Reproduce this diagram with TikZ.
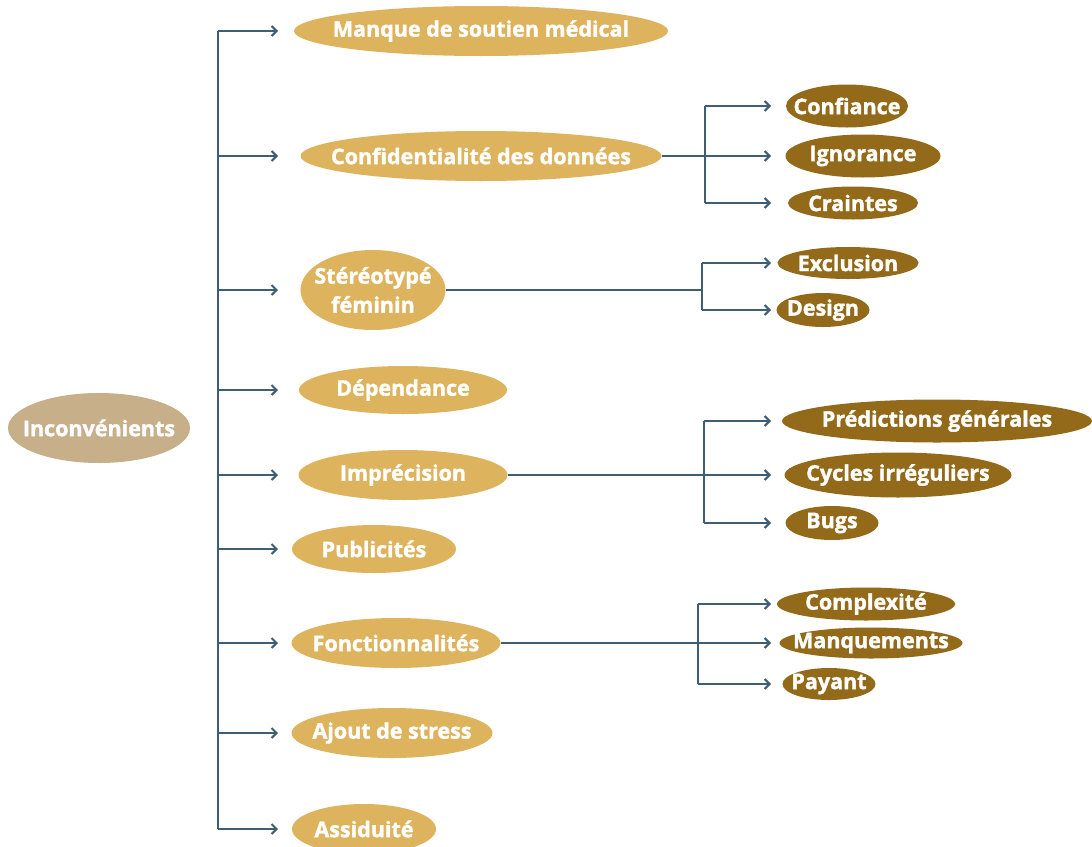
\documentclass[tikz,border=0pt]{standalone}
\usepackage{fontspec}
\setmainfont{Open Sans}[BoldFeatures={FakeBold=1.6}]
\usetikzlibrary{shapes.geometric,arrows.meta}
\definecolor{rootfill}{HTML}{C6AF89}
\definecolor{mainfill}{HTML}{DDB35E}
\definecolor{subfill}{HTML}{936A19}
\definecolor{linecol}{HTML}{3E5F73}
\tikzset{
  bubble/.style={ellipse, inner sep=0pt},
  label text/.style={inner sep=0pt, text=white,
    font=\fontsize{21.5}{29}\selectfont\bfseries, align=center},
  rootnode/.style={bubble, fill=rootfill},
  mainnode/.style={bubble, fill=mainfill},
  subnode/.style={bubble, fill=subfill},
  wire/.style={draw=linecol, line width=2pt},
  arr/.style={wire, -{Straight Barb[length=5pt,width=10pt,line width=2pt]}},
}
% #1 style, #2 name, #3 centre, #4 width, #5 height, #6 text
\newcommand{\bub}[6]{%
  \node[#1, minimum width=#4pt, minimum height=#5pt] (#2) at (#3) {};
  \node[label text] at (#2) {#6};}
\begin{document}
\begin{tikzpicture}[x=1pt,y=-1pt]
\path[use as bounding box, clip] (0,0) rectangle (1092,846);
\fill[white] (0,0) rectangle (1092,846);

% root
\bub{rootnode}{root}{99,428}{182}{70}{Inconvénients}

% first level
\bub{mainnode}{m1}{481,31}{374}{50}{Manque de soutien médical}
\bub{mainnode}{m2}{481,156}{361}{50}{Confidentialité des données}
\bub{mainnode}{m3}{373,290}{145}{80}{Stéréotypé\\féminin}
\bub{mainnode}{m4}{403,390}{208}{48}{Dépendance}
\bub{mainnode}{m5}{403,475}{209}{50}{Imprécision}
\bub{mainnode}{m6}{374,549}{164}{48}{Publicités}
\bub{mainnode}{m7}{396,643}{209}{50}{Fonctionnalités}
\bub{mainnode}{m8}{392,733}{201}{50}{Ajout de stress}
\bub{mainnode}{m9}{364,829}{144}{50}{Assiduité}

% second level
\bub{subnode}{c1}{847,106}{122}{43}{Confiance}
\bub{subnode}{c2}{863,156}{155}{43}{Ignorance}
\bub{subnode}{c3}{853,203}{130}{33}{Craintes}
\bub{subnode}{s1}{848,263}{141}{32}{Exclusion}
\bub{subnode}{s2}{823,310}{93}{34}{Design}
\bub{subnode}{p1}{937,421}{310}{43}{Prédictions générales}
\bub{subnode}{p2}{898,475}{227}{45}{Cycles irréguliers}
\bub{subnode}{p3}{832,523}{93}{34}{Bugs}
\bub{subnode}{f1}{866,604}{178}{33}{Complexité}
\bub{subnode}{f2}{871,643}{183}{31}{Manquements}
\bub{subnode}{f3}{829,684}{93}{32}{Payant}

% trunk from the root to the first level
\coordinate (trunk) at (218,0);
\coordinate (tip) at (278,0);
\draw[wire] (trunk |- m1) -- (trunk |- m9);
\foreach \m in {m1,m2,m3,m4,m5,m6,m7,m8,m9}
  \draw[arr] (trunk |- \m) -- (tip |- \m);

% branches of the second level
\coordinate (jc) at (705,0);
\coordinate (js) at (702,0);
\coordinate (jp) at (704,0);
\coordinate (jf) at (698,0);
\coordinate (tipb) at (771,0);

\draw[wire] (m2.east) -- (jc |- m2);
\draw[wire] (jc |- c1) -- (jc |- c3);
\foreach \c in {c1,c2,c3} \draw[arr] (jc |- \c) -- (tipb |- \c);

\draw[wire] (m3.east) -- (js |- m3);
\draw[wire] (js |- s1) -- (js |- s2);
\foreach \c in {s1,s2} \draw[arr] (js |- \c) -- (tipb |- \c);

\draw[wire] (m5.east) -- (jp |- m5);
\draw[wire] (jp |- p1) -- (jp |- p3);
\foreach \c in {p1,p2,p3} \draw[arr] (jp |- \c) -- (tipb |- \c);

\draw[wire] (m7.east) -- (jf |- m7);
\draw[wire] (jf |- f1) -- (jf |- f3);
\foreach \c in {f1,f2,f3} \draw[arr] (jf |- \c) -- (tipb |- \c);
\end{tikzpicture}
\end{document}
